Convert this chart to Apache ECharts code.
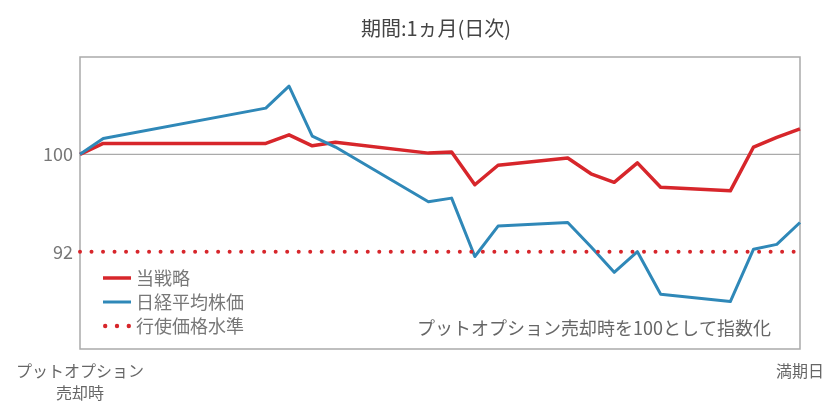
<!DOCTYPE html>
<html>
<head>
<meta charset="utf-8">
<script src="https://cdn.jsdelivr.net/npm/echarts@6/dist/echarts.min.js"></script>
<style>
html,body{margin:0;padding:0;background:#fff;}
#c{width:827px;height:404px;}
</style>
</head>
<body>
<div id="c"></div>
<script>
const days = [0,1,8,9,10,11,15,16,17,18,21,22,23,24,25,28,29,30,31];
const strategy = [100,100.9,100.9,101.6,100.7,101.0,100.1,100.2,97.5,99.1,99.7,98.4,97.7,99.3,97.3,97.0,100.6,101.4,102.1];
const nikkei = [100,101.3,103.8,105.6,101.5,100.6,96.1,96.4,91.6,94.1,94.4,92.4,90.3,92.0,88.5,87.9,92.2,92.6,94.4];
const strikeLevel = 92;
const baseLevel = 100;
const yTickLabels = [92, 100];
const seriesNames = ['当戦略', '日経平均株価', '行使価格水準'];
const startLabel = 'プットオプション\n売却時';
const endLabel = '満期日';
const titleText = '期間:1ヵ月(日次)';
const noteText = 'プットオプション売却時を100として指数化';

const FONT = '"Noto Sans CJK JP", "Noto Sans", sans-serif';
const RED = '#d7262b', BLUE = '#2f88b8';
const first = days[0], last = days[days.length - 1];
const pairs = (vals) => days.map((d, i) => [d, vals[i]]);

const chart = echarts.init(document.getElementById('c'), null, {renderer: 'canvas'});
chart.setOption({
  animation: false,
  backgroundColor: '#fff',
  textStyle: {fontFamily: FONT},
  title: {
    text: titleText,
    left: 431, top: 13, textAlign: 'center',
    textStyle: {fontFamily: FONT, fontSize: 20, fontWeight: 'normal', color: '#444'}
  },
  grid: {left: 80, right: 27, top: 57, bottom: 52, show: true, borderColor: '#aaa', borderWidth: 1.5, backgroundColor: 'transparent'},
  xAxis: {
    type: 'value', min: first, max: last, interval: last - first,
    axisLine: {show: false}, axisTick: {show: false}, splitLine: {show: false},
    axisLabel: {
      margin: 11, fontSize: 16, color: '#666', lineHeight: 22, fontFamily: FONT,
      formatter: v => v === first ? startLabel : (v === last ? endLabel : '')
    }
  },
  yAxis: {
    type: 'value', min: 84, max: 108, interval: 8,
    axisLine: {show: false}, axisTick: {show: false}, splitLine: {show: false},
    axisLabel: {
      margin: 7, fontSize: 18, color: '#777', fontFamily: FONT,
      formatter: v => yTickLabels.indexOf(v) >= 0 ? String(v) : ''
    }
  },
  legend: {
    orient: 'vertical', left: 98, top: 264, itemWidth: 28, itemHeight: 12, itemGap: 6,
    textStyle: {fontFamily: FONT, fontSize: 18, lineHeight: 18, color: '#777'},
    data: [
      {name: seriesNames[0], icon: 'path://M0,0 L28,0 L28,3.5 L0,3.5 Z', itemStyle: {color: RED}},
      {name: seriesNames[1], icon: 'path://M0,0 L28,0 L28,3 L0,3 Z', itemStyle: {color: BLUE}},
      {name: seriesNames[2], icon: 'path://M2.2,0 A2.2,2.2 0 1,1 2.2,4.4 A2.2,2.2 0 1,1 2.2,0 Z M14,0 A2.2,2.2 0 1,1 14,4.4 A2.2,2.2 0 1,1 14,0 Z M25.8,0 A2.2,2.2 0 1,1 25.8,4.4 A2.2,2.2 0 1,1 25.8,0 Z', itemStyle: {color: RED}}
    ]
  },
  graphic: [{
    type: 'text', left: 417, top: 319, silent: true,
    style: {text: noteText, fontFamily: FONT, fontSize: 18, fill: '#666'}
  }],
  series: [
    {
      name: 'base', type: 'line', z: 1, silent: true, symbol: 'none',
      data: [[first, baseLevel], [last, baseLevel]],
      lineStyle: {color: '#aaa', width: 1.2}
    },
    {
      name: seriesNames[0], type: 'line', z: 3, symbol: 'none',
      data: pairs(strategy),
      itemStyle: {color: RED},
      lineStyle: {color: RED, width: 3.5, join: 'round'}
    },
    {
      name: seriesNames[1], type: 'line', z: 4, symbol: 'none',
      data: pairs(nikkei),
      itemStyle: {color: BLUE},
      lineStyle: {color: BLUE, width: 3, join: 'round'}
    },
    {
      name: seriesNames[2], type: 'line', z: 5, symbol: 'none',
      data: [[first, strikeLevel], [last, strikeLevel]],
      itemStyle: {color: RED},
      lineStyle: {color: RED, width: 4, type: [0.01, 11.5], cap: 'round'}
    }
  ]
});
</script>
</body>
</html>
